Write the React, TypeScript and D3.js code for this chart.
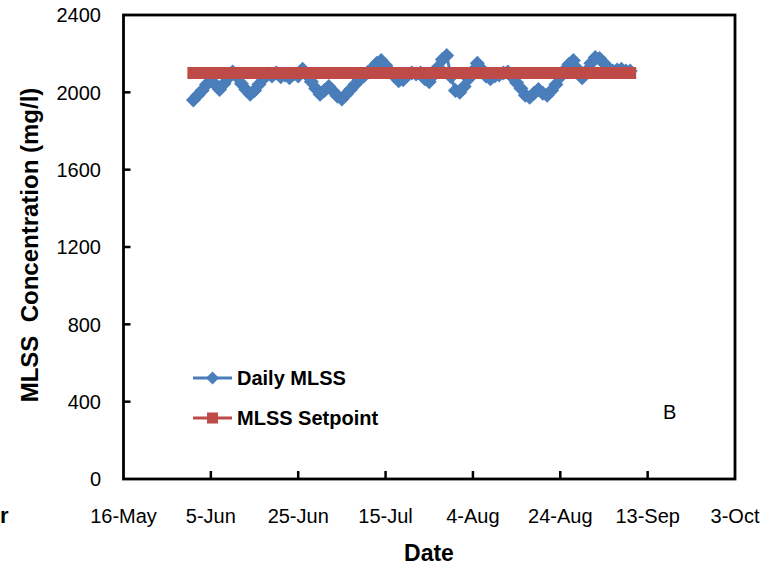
import React from "react";
import * as d3 from "d3";

// ---- data ----
const seriesStart = "2011-06-01";
const dailyMLSS = [
  1960, 1985, 2010, 2040, 2060, 2040, 2015, 2045, 2075, 2105,
  2080, 2045, 2015, 1990, 2010, 2040, 2070, 2095, 2085, 2100,
  2080, 2090, 2075, 2095, 2085, 2120, 2090, 2055, 2020, 1990,
  2010, 2030, 2005, 1980, 1965, 1990, 2015, 2040, 2065, 2085,
  2105, 2125, 2150, 2165, 2140, 2110, 2085, 2060, 2065, 2090,
  2100, 2095, 2100, 2070, 2055, 2090, 2130, 2170, 2190, 2080,
  2010, 2000, 2030, 2070, 2110, 2150, 2120, 2085, 2070, 2085,
  2090, 2100, 2105, 2080, 2050, 2020, 1985, 1975, 1995, 2015,
  1995, 1985, 2010, 2040, 2080, 2115, 2145, 2165, 2120, 2075,
  2110, 2150, 2180, 2175, 2150, 2125, 2110, 2115, 2120, 2110,
  2110,
];
const setpointValue = 2100;
const xTickLabels = ["16-May", "5-Jun", "25-Jun", "15-Jul", "4-Aug", "24-Aug", "13-Sep", "3-Oct"];
const yTicks = [0, 400, 800, 1200, 1600, 2000, 2400];
const legendLabels = ["Daily MLSS", "MLSS Setpoint"];

const W = 773, H = 567;
const left = 123.5, right = 735, top = 15, bottom = 479;
const blue = "#4A7EBB";
const red = "#BE4B48";
const FONT = "'Liberation Sans', Arial, sans-serif";

export default function App() {
  const start = d3.utcParse("%Y-%m-%d")(seriesStart)!;
  const dates = dailyMLSS.map((_, i) => d3.utcDay.offset(start, i));
  const xDomainStart = d3.utcParse("%Y-%m-%d")("2011-05-16")!;
  const xDomainEnd = d3.utcDay.offset(xDomainStart, 20 * (xTickLabels.length - 1));
  const x = d3.scaleUtc().domain([xDomainStart, xDomainEnd]).range([left, right]);
  const y = d3.scaleLinear().domain([0, 2400]).range([bottom, top]);
  const xTicks = xTickLabels.map((_, i) => d3.utcDay.offset(xDomainStart, 20 * i));

  const line = d3.line<number>().x((_, i) => x(dates[i])).y((d) => y(d));
  const spLine = d3.line<Date>().x((d) => x(d)).y(() => y(setpointValue));

  const dHalf = 7.5;
  const diamond = (cx: number, cy: number) =>
    `M${cx},${cy - dHalf}L${cx + dHalf},${cy}L${cx},${cy + dHalf}L${cx - dHalf},${cy}Z`;
  const sq = 12;

  return (
    <svg width={W} height={H} style={{ position: "absolute", left: 0, top: 0, background: "#fff" }}>
      <rect width={W} height={H} fill="#fff" />
      {/* series */}
      <path d={line(dailyMLSS) || ""} fill="none" stroke={blue} strokeWidth={3} />
      {dailyMLSS.map((v, i) => (
        <path key={i} d={diamond(x(dates[i]), y(v))} fill={blue} />
      ))}
      <path d={spLine(dates) || ""} fill="none" stroke={red} strokeWidth={3} />
      {dates.map((d, i) => (
        <rect key={i} x={x(d) - sq / 2} y={y(setpointValue) - sq / 2} width={sq} height={sq} fill={red} />
      ))}
      {/* frame */}
      <rect x={left} y={top} width={right - left} height={bottom - top} fill="none" stroke="#000" strokeWidth={2.8} />
      {/* x ticks */}
      {xTicks.map((t, i) => (
        <g key={i}>
          {i > 0 && i < xTicks.length - 1 && (
            <line x1={x(t)} x2={x(t)} y1={bottom} y2={bottom - 8} stroke="#000" strokeWidth={2.5} />
          )}
          <text x={x(t)} y={523} textAnchor="middle" fontFamily={FONT} fontSize={20} fill="#000">
            {xTickLabels[i]}
          </text>
        </g>
      ))}
      {/* y ticks */}
      {yTicks.map((t) => (
        <g key={t}>
          {t > 0 && t < 2400 && (
            <line x1={left} x2={left + 7} y1={y(t)} y2={y(t)} stroke="#000" strokeWidth={2.5} />
          )}
          <text x={101} y={y(t)} dy="0.36em" textAnchor="end" fontFamily={FONT} fontSize={20} fill="#000">
            {t}
          </text>
        </g>
      ))}
      {/* axis titles */}
      <text x={429} y={561} textAnchor="middle" fontFamily={FONT} fontSize={23} fontWeight="bold">Date</text>
      <text
        transform={`translate(38,245) rotate(-90)`}
        textAnchor="middle"
        fontFamily={FONT}
        fontSize={24}
        fontWeight="bold"
        style={{ whiteSpace: "pre" }}
      >
        {"MLSS  Concentration (mg/l)"}
      </text>
      <text x={0} y={523} fontFamily={FONT} fontSize={22} fontWeight="bold">r</text>
      {/* legend */}
      <g>
        <line x1={193} x2={232} y1={378} y2={378} stroke={blue} strokeWidth={3} />
        <path d={`M212.5,${378 - 6.5}L${219},378L212.5,${378 + 6.5}L${206},378Z`} fill={blue} />
        <text x={237} y={385} fontFamily={FONT} fontSize={20} fontWeight="bold">{legendLabels[0]}</text>
        <line x1={193} x2={232} y1={418} y2={418} stroke={red} strokeWidth={3} />
        <rect x={207} y={412.5} width={11} height={11} fill={red} />
        <text x={237} y={425} fontFamily={FONT} fontSize={20} fontWeight="bold">{legendLabels[1]}</text>
      </g>
      {/* B label */}
      <text x={663} y={419} fontFamily={FONT} fontSize={20}>B</text>
    </svg>
  );
}
